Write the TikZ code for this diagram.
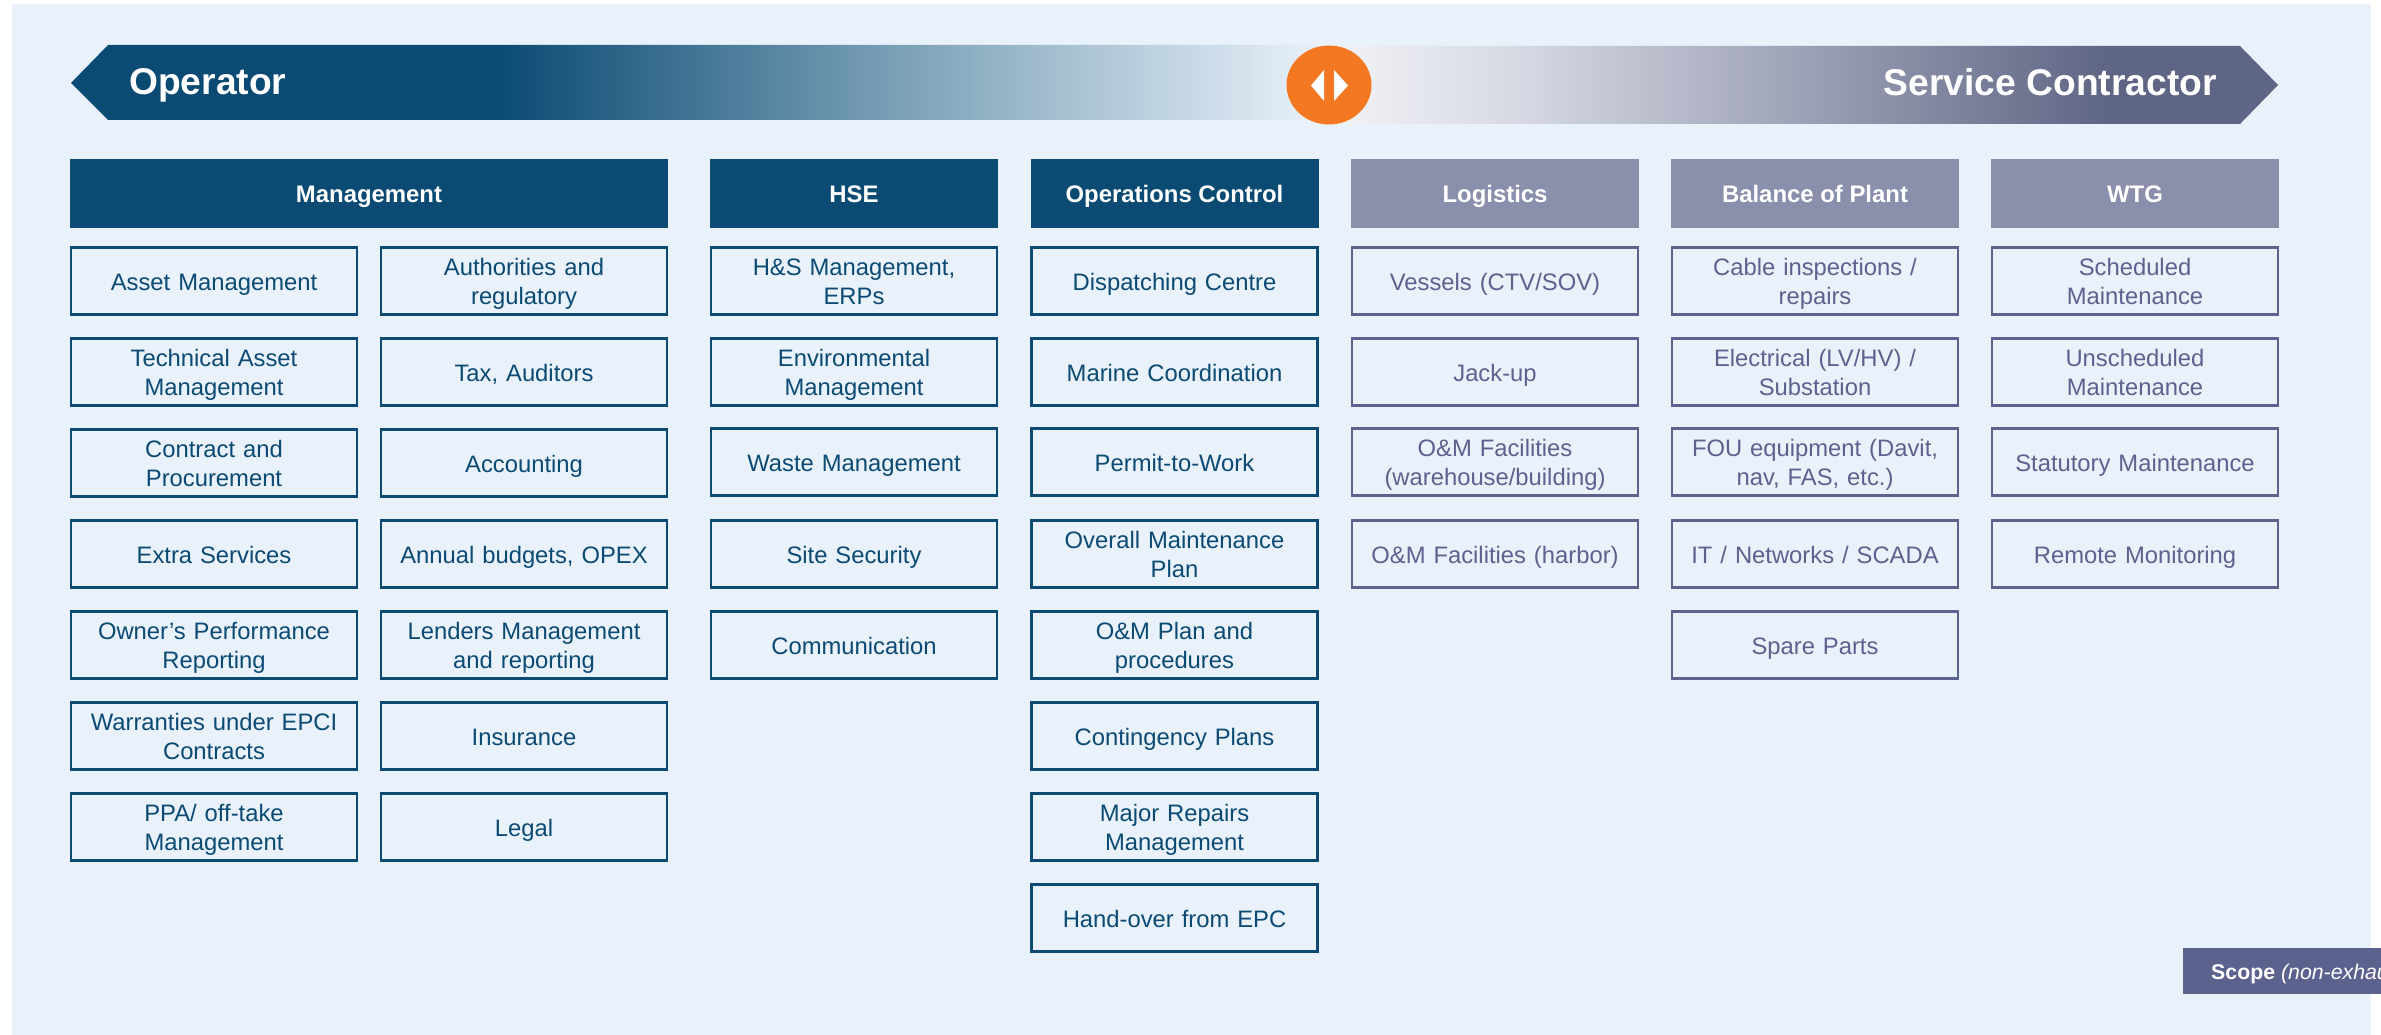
\documentclass[tikz,border=0pt]{standalone}
\usepackage{fontspec}
\setmainfont{Liberation Sans}
\usetikzlibrary{shapes.geometric}
\definecolor{bgc}{HTML}{E9F1FA}
\definecolor{dk}{HTML}{0A4A73}
\definecolor{pu}{HTML}{5C628E}
\definecolor{gh}{HTML}{8A8FAB}
\definecolor{org}{HTML}{F47721}
\definecolor{rend}{HTML}{5F6685}
\definecolor{lm}{HTML}{6E97AF}
\pgfdeclarehorizontalshading{leftband}{100bp}{color(0bp)=(dk); color(42bp)=(dk); color(58bp)=(lm!90!bgc); color(75bp)=(bgc); color(100bp)=(bgc)}
\definecolor{rs}{HTML}{F3F3F7}
\definecolor{rm}{HTML}{D6D9E3}
\pgfdeclarehorizontalshading{rightband}{100bp}{color(0bp)=(rs); color(25bp)=(rs); color(35bp)=(rm); color(66bp)=(rend); color(100bp)=(rend)}
\newcommand\capt{\rule[-5.2pt]{0pt}{29pt}}
\tikzset{
 base/.style={rectangle,inner sep=0pt,align=center,font=\fontsize{23.8}{29}\selectfont,execute at begin node=\capt,execute at end node=\capt},
 head/.style={base,minimum width=288pt,minimum height=69pt,text=white,font=\fontsize{23.9}{29}\selectfont\bfseries},
 dkhead/.style={head,fill=dk},
 puhead/.style={head,fill=gh},
 opbox/.style={base,draw=dk,line width=2.6pt,minimum width=286pt,minimum height=66.5pt,text=dk,text width=280pt},
 scbox/.style={base,draw=pu,line width=2.6pt,minimum width=286pt,minimum height=66.5pt,text=pu,text width=280pt},
 tri/.style={fill=white,draw=none}
}
\def\cA{214}\def\cB{524}\def\cC{854}\def\cD{1174.5}\def\cE{1495}\def\cF{1815}\def\cG{2135}
\def\rA{281}\def\rB{372}\def\rC{463}\def\rCb{462}\def\rD{554}\def\rE{645}\def\rF{736}\def\rG{827}\def\rH{918}
\begin{document}
\begin{tikzpicture}[x=1pt,y=-1pt]
\useasboundingbox (0,0) rectangle (2381,1035);
\clip (0,0) rectangle (2381,1035);
\fill[white] (0,0) rectangle (2381,1035);
\fill[bgc] (12,4) rectangle (2371,1035);
% bands
\shade[shading=leftband] (71,83) -- (108,45) -- (1320,45) -- (1320,120) -- (108,120) -- cycle;
\shade[shading=rightband] (1329,46) -- (2240,46) -- (2278,85) -- (2240,124) -- (1329,124) -- cycle;
\node[inner sep=0pt,anchor=base west,text=white,font=\fontsize{37.2}{40}\selectfont\bfseries] (operator) at (129,95) {Operator};
\node[inner sep=0pt,anchor=base east,text=white,font=\fontsize{37.2}{40}\selectfont\bfseries] (contractor) at (2217,95.5) {Service Contractor};
\node[ellipse,fill=org,inner sep=0pt,minimum width=85pt,minimum height=79pt] (hub) at (1329,85) {};
\fill[tri] (1311,85.5) -- (1324,70) -- (1324,101) -- cycle;
\fill[tri] (1348,85.5) -- (1334,70) -- (1334,101) -- cycle;
% headers
\node[dkhead,minimum width=598pt] (hMgmt) at (369,193.5) {Management};
\node[dkhead] (hHSE) at (\cC,193.5) {HSE};
\node[dkhead] (hOps) at (\cD,193.5) {Operations Control};
\node[puhead] (hLog) at (\cE,193.5) {Logistics};
\node[puhead] (hBop) at (\cF,193.5) {Balance of Plant};
\node[puhead] (hWtg) at (\cG,193.5) {WTG};
% management left
\node[opbox] (a1) at (\cA,\rA) {Asset Management};
\node[opbox] (a2) at (\cA,\rB) {Technical Asset\\Management};
\node[opbox] (a3) at (\cA,\rC) {Contract and\\Procurement};
\node[opbox] (a4) at (\cA,\rD) {Extra Services};
\node[opbox] (a5) at (\cA,\rE) {Owner’s Performance\\Reporting};
\node[opbox] (a6) at (\cA,\rF) {Warranties under EPCI\\Contracts};
\node[opbox] (a7) at (\cA,\rG) {PPA/ off-take\\Management};
% management right
\node[opbox] (b1) at (\cB,\rA) {Authorities and\\regulatory};
\node[opbox] (b2) at (\cB,\rB) {Tax, Auditors};
\node[opbox] (b3) at (\cB,\rC) {Accounting};
\node[opbox] (b4) at (\cB,\rD) {Annual budgets, OPEX};
\node[opbox] (b5) at (\cB,\rE) {Lenders Management\\and reporting};
\node[opbox] (b6) at (\cB,\rF) {Insurance};
\node[opbox] (b7) at (\cB,\rG) {Legal};
% HSE
\node[opbox] (c1) at (\cC,\rA) {H\&S Management,\\ERPs};
\node[opbox] (c2) at (\cC,\rB) {Environmental\\Management};
\node[opbox] (c3) at (\cC,\rCb) {Waste Management};
\node[opbox] (c4) at (\cC,\rD) {Site Security};
\node[opbox] (c5) at (\cC,\rE) {Communication};
% Ops
\node[opbox] (d1) at (\cD,\rA) {Dispatching Centre};
\node[opbox] (d2) at (\cD,\rB) {Marine Coordination};
\node[opbox] (d3) at (\cD,\rCb) {Permit-to-Work};
\node[opbox] (d4) at (\cD,\rD) {Overall Maintenance\\Plan};
\node[opbox] (d5) at (\cD,\rE) {O\&M Plan and\\procedures};
\node[opbox] (d6) at (\cD,\rF) {Contingency Plans};
\node[opbox] (d7) at (\cD,\rG) {Major Repairs\\Management};
\node[opbox] (d8) at (\cD,\rH) {Hand-over from EPC};
% Logistics
\node[scbox] (e1) at (\cE,\rA) {Vessels (CTV/SOV)};
\node[scbox] (e2) at (\cE,\rB) {Jack-up};
\node[scbox] (e3) at (\cE,\rCb) {O\&M Facilities\\(warehouse/building)};
\node[scbox] (e4) at (\cE,\rD) {O\&M Facilities (harbor)};
% BoP
\node[scbox] (f1) at (\cF,\rA) {Cable inspections /\\repairs};
\node[scbox] (f2) at (\cF,\rB) {Electrical (LV/HV) /\\Substation};
\node[scbox] (f3) at (\cF,\rCb) {FOU equipment (Davit,\\nav, FAS, etc.)};
\node[scbox] (f4) at (\cF,\rD) {IT / Networks / SCADA};
\node[scbox] (f5) at (\cF,\rE) {Spare Parts};
% WTG
\node[scbox] (g1) at (\cG,\rA) {Scheduled\\Maintenance};
\node[scbox] (g2) at (\cG,\rB) {Unscheduled\\Maintenance};
\node[scbox] (g3) at (\cG,\rCb) {Statutory Maintenance};
\node[scbox] (g4) at (\cG,\rD) {Remote Monitoring};
% scope tag
\fill[pu] (2183,948) rectangle (2381,994);
\node[inner sep=0pt,anchor=base west,text=white,font=\fontsize{21.3}{24}\selectfont] (scope) at (2211,979) {\textbf{Scope} \textit{(non-exhau}};
\end{tikzpicture}
\end{document}
